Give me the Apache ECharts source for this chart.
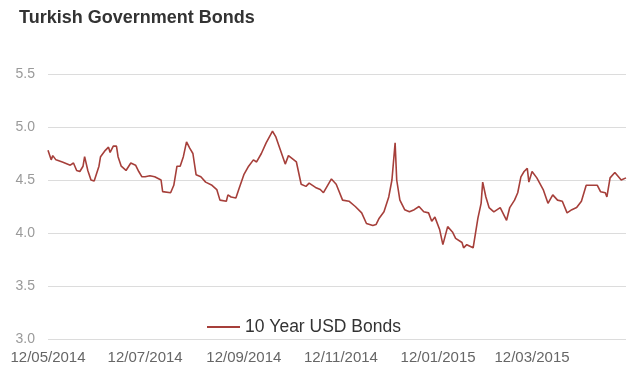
<!DOCTYPE html>
<html>
<head>
<meta charset="utf-8">
<script src="https://cdn.jsdelivr.net/npm/echarts@6/dist/echarts.min.js"></script>
<style>
html,body{margin:0;padding:0;background:#fff;}
#chart{width:632px;height:368px;}
</style>
</head>
<body>
<div id="chart"></div>
<script>
var titleText = "Turkish Government Bonds";
var seriesName = "10 Year USD Bonds";
var dates = [
"2014-05-12","2014-05-14","2014-05-15","2014-05-17","2014-05-21","2014-05-26","2014-05-28","2014-05-30",
"2014-06-01","2014-06-03","2014-06-04","2014-06-06","2014-06-08","2014-06-10","2014-06-13","2014-06-14",
"2014-06-17","2014-06-19","2014-06-20","2014-06-22","2014-06-24","2014-06-25","2014-06-27","2014-06-30",
"2014-07-03","2014-07-06","2014-07-08","2014-07-10","2014-07-12","2014-07-15","2014-07-18","2014-07-22",
"2014-07-23","2014-07-28","2014-07-30","2014-08-01","2014-08-03","2014-08-05","2014-08-07","2014-08-09",
"2014-08-11","2014-08-13","2014-08-16","2014-08-19","2014-08-23","2014-08-26","2014-08-28","2014-09-01",
"2014-09-02","2014-09-04","2014-09-07","2014-09-09","2014-09-12","2014-09-15","2014-09-18","2014-09-20",
"2014-09-23","2014-09-26","2014-09-30","2014-10-02","2014-10-05","2014-10-08","2014-10-10","2014-10-15",
"2014-10-18","2014-10-21","2014-10-23","2014-10-27","2014-10-30","2014-11-01","2014-11-06","2014-11-09",
"2014-11-13","2014-11-17","2014-11-21","2014-11-25","2014-11-28","2014-12-02","2014-12-04","2014-12-06",
"2014-12-09","2014-12-12","2014-12-14","2014-12-16","2014-12-17","2014-12-19","2014-12-22","2014-12-25",
"2014-12-28","2014-12-31","2015-01-03","2015-01-06","2015-01-08","2015-01-10","2015-01-13","2015-01-15",
"2015-01-18","2015-01-21","2015-01-23","2015-01-27","2015-01-28","2015-01-30","2015-02-03","2015-02-04",
"2015-02-06","2015-02-08","2015-02-09","2015-02-11","2015-02-13","2015-02-16","2015-02-20","2015-02-21",
"2015-02-24","2015-02-26","2015-03-01","2015-03-03","2015-03-05","2015-03-07","2015-03-09","2015-03-10",
"2015-03-12","2015-03-15","2015-03-19","2015-03-22","2015-03-25","2015-03-28","2015-03-31","2015-04-03",
"2015-04-06","2015-04-09","2015-04-12","2015-04-15","2015-04-19","2015-04-22","2015-04-24","2015-04-27",
"2015-04-28","2015-04-30","2015-05-03","2015-05-04","2015-05-07","2015-05-10"
];
var yields = [
4.78,4.69,4.73,4.69,4.67,4.64,4.66,4.59,
4.58,4.63,4.72,4.59,4.50,4.49,4.63,4.72,
4.78,4.81,4.76,4.82,4.82,4.72,4.63,4.59,
4.66,4.64,4.58,4.53,4.53,4.54,4.53,4.50,
4.39,4.38,4.45,4.63,4.63,4.72,4.86,4.80,
4.75,4.55,4.53,4.48,4.45,4.41,4.31,4.30,
4.36,4.34,4.33,4.42,4.55,4.63,4.69,4.67,
4.75,4.85,4.96,4.91,4.78,4.65,4.73,4.67,
4.46,4.44,4.47,4.43,4.41,4.38,4.51,4.46,
4.31,4.30,4.25,4.19,4.09,4.07,4.08,4.14,
4.20,4.34,4.50,4.85,4.50,4.31,4.22,4.20,
4.22,4.25,4.20,4.19,4.11,4.15,4.03,3.89,
4.06,4.01,3.95,3.91,3.86,3.89,3.86,3.87,
4.14,4.28,4.48,4.34,4.24,4.20,4.24,4.25,
4.12,4.24,4.31,4.38,4.53,4.58,4.61,4.48,
4.58,4.52,4.41,4.28,4.36,4.31,4.30,4.19,
4.22,4.24,4.30,4.45,4.45,4.45,4.39,4.38,
4.34,4.52,4.57,4.58,4.50,4.52
];
var xTickDates = ["2014-05-12","2014-07-12","2014-09-12","2014-11-12","2015-01-12","2015-03-12"];
var yMin = 3.0, yMax = 5.5, yStep = 0.5;

function toLocal(s){var p=s.split("-");return new Date(+p[0],+p[1]-1,+p[2]).getTime();}
function pad(n){return (n<10?"0":"")+n;}
function fmt(v){var d=new Date(v);return pad(d.getDate())+"/"+pad(d.getMonth()+1)+"/"+d.getFullYear();}

var pts = dates.map(function(d,i){return [toLocal(d), yields[i]];});
var chart = echarts.init(document.getElementById("chart"), null, {renderer:"canvas"});
chart.setOption({
  animation:false,
  backgroundColor:"#ffffff",
  textStyle:{fontFamily:"Liberation Sans, Arial, sans-serif"},
  title:{text:titleText,left:14,top:4,textStyle:{fontSize:18,fontWeight:"bold",color:"#333333",fontFamily:"Liberation Sans, Arial, sans-serif"}},
  legend:{data:[seriesName],left:202,top:313,icon:"rect",itemWidth:33,itemHeight:2,itemGap:5,
    textStyle:{fontSize:17.5,color:"#333333"}},
  grid:{left:48,right:6,top:74,bottom:29,containLabel:false},
  xAxis:{type:"value",min:toLocal(dates[0]),max:toLocal(dates[dates.length-1]),
    axisLine:{show:false},axisTick:{show:false},splitLine:{show:false},
    axisLabel:{customValues:xTickDates.map(toLocal),formatter:function(v){return fmt(v);},
      fontSize:15,color:"#666666",margin:11,hideOverlap:false}},
  yAxis:{type:"value",min:yMin,max:yMax,interval:yStep,
    axisLine:{show:false},axisTick:{show:false},
    splitLine:{lineStyle:{color:"#dcdcdc",width:1}},
    axisLabel:{formatter:function(v){return v.toFixed(1);},fontSize:14,color:"#9a9a9a",margin:13}},
  series:[{name:seriesName,type:"line",data:pts,symbol:"none",
    lineStyle:{color:"#a63f3a",width:1.6},itemStyle:{color:"#a63f3a"}}]
});
</script>
</body>
</html>
